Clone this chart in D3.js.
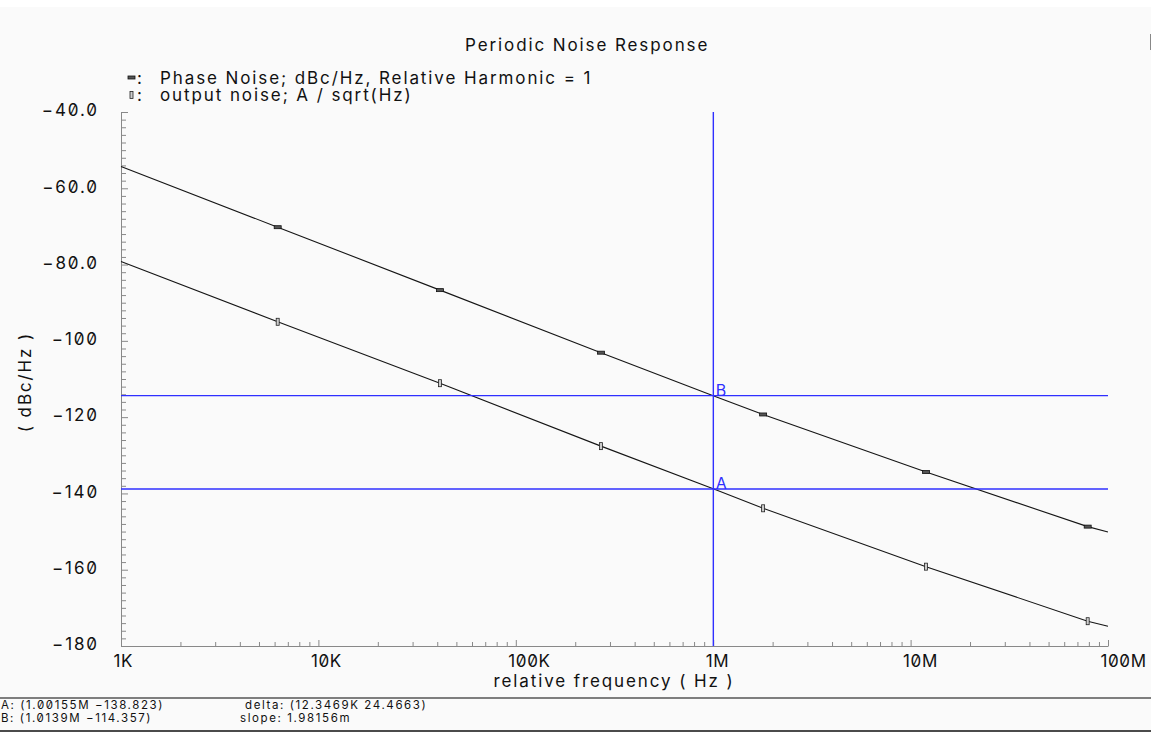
<!DOCTYPE html>
<html>
<head>
<meta charset="utf-8">
<script src="https://cdn.jsdelivr.net/npm/d3@7"></script>
<style>
  html, body { margin: 0; padding: 0; background: #fafafa; }
  svg { display: block; }
  text { font-family: Inter, "DejaVu Sans", sans-serif; font-variant-numeric: slashed-zero; font-feature-settings: "zero" 1; fill: #111; }
  .big { font-size: 17px; letter-spacing: 1.9px; }
  .tickx { font-size: 17px; letter-spacing: 0.6px; }
  .small { font-size: 11.5px; letter-spacing: 1.6px; }
  .cursor-label { font-size: 16px; fill: #2f2fff; }
</style>
</head>
<body>
<div id="chart"></div>
<script>
const width = 1151;
const height = 732;

// data
const freqs = [1e3, 6.22e3, 41.3e3, 270e3, 1e6, 1.79e6, 11.97e6, 78.9e6, 1e8];
const phaseNoise = [-54.3, -70.2, -86.7, -103.1, -114.4, -119.3, -134.4, -148.7, -150.1];
const outputNoise = [-79.2, -95.0, -111.1, -127.6, -138.8, -143.9, -159.2, -173.5, -174.8];
const markerIdx = [1, 2, 3, 5, 6, 7];

const xTicks = [1e3, 1e4, 1e5, 1e6, 1e7, 1e8];
const xTickLabels = ["1K", "10K", "100K", "1M", "10M", "100M"];
const yTicks = [-40, -60, -80, -100, -120, -140, -160, -180];
const yTickLabels = ["\u221240.0", "\u221260.0", "\u221280.0", "\u2212100", "\u2212120", "\u2212140", "\u2212160", "\u2212180"];

const cursorA = { name: "A", f: 1.00155e6, v: -138.823 };
const cursorB = { name: "B", f: 1.0139e6, v: -114.357 };
const readout = [
    ["A: (1.00155M \u2212138.823)", "delta: (12.3469K 24.4663)"],
    ["B: (1.0139M \u2212114.357)", "slope: 1.98156m"]
];

const plotLeft = 121, plotRight = 1108, plotTop = 112, plotBottom = 646;

const svg = d3.select("#chart")
    .append("svg")
    .attr("width", width)
    .attr("height", height);

svg.append("rect").attr("x", 0).attr("y", 0).attr("width", width).attr("height", 7).attr("fill", "#fff");
svg.append("rect").attr("x", 1150).attr("y", 34).attr("width", 1).attr("height", 16).attr("fill", "#888");

const x = d3.scaleLog().domain([1e3, 1e8]).range([plotLeft, plotRight]);
const y = d3.scaleLinear().domain([-180, -40]).range([plotBottom, plotTop]);

// minor ticks
const xMinor = [];
for (let d = 3; d < 8; d++) {
    for (let k = 2; k <= 9; k++) xMinor.push(k * Math.pow(10, d));
}
const yMinor = d3.range(-180, -39, 2).filter(v => v % 20 !== 0);

const gx = svg.append("g").attr("transform", `translate(0,${plotBottom})`);
gx.call(d3.axisBottom(x).tickValues(xMinor).tickSizeInner(-4).tickSizeOuter(0).tickFormat(""));
gx.call(g => g.select(".domain").remove());
const gxMajor = svg.append("g").attr("transform", `translate(0,${plotBottom})`)
    .call(d3.axisBottom(x).tickValues(xTicks).tickSizeInner(-6).tickSizeOuter(0)
        .tickFormat((d, i) => xTickLabels[i]));
gxMajor.attr("font-size", null).attr("font-family", null).attr("text-anchor", "start");
gxMajor.selectAll("text").attr("class", "tickx").attr("x", -8).attr("y", 21).attr("dy", 0);

const gy = svg.append("g").attr("transform", `translate(${plotLeft},0)`);
gy.call(d3.axisLeft(y).tickValues(yMinor).tickSizeInner(-5).tickSizeOuter(0).tickFormat(""));
gy.call(g => g.select(".domain").remove());
const gyMajor = svg.append("g").attr("transform", `translate(${plotLeft},0)`)
    .call(d3.axisLeft(y).tickValues(yTicks).tickSizeInner(-7).tickSizeOuter(0).tickPadding(22)
        .tickFormat((d, i) => yTickLabels[i]));
gyMajor.attr("font-size", null).attr("font-family", null);
gyMajor.selectAll("text").attr("class", "big").attr("dy", "0.22em");

svg.selectAll(".tick line").attr("stroke", "#888");
svg.selectAll(".domain").attr("stroke", "#888");

// curves
const line = d3.line().x(d => x(d[0])).y(d => y(d[1]));
const seriesPN = freqs.map((f, i) => [f, phaseNoise[i]]);
const seriesON = freqs.map((f, i) => [f, outputNoise[i]]);

[seriesPN, seriesON].forEach(s => {
    svg.append("path").datum(s).attr("d", line)
        .attr("fill", "none").attr("stroke", "#151515").attr("stroke-width", 1.1);
});

svg.selectAll(".mk-pn").data(markerIdx.map(i => seriesPN[i])).enter().append("rect")
    .attr("x", d => x(d[0]) - 3.5).attr("y", d => y(d[1]) - 1.5)
    .attr("width", 7).attr("height", 3)
    .attr("fill", "#555").attr("stroke", "#111").attr("stroke-width", 0.8);
svg.selectAll(".mk-on").data(markerIdx.map(i => seriesON[i])).enter().append("rect")
    .attr("x", d => x(d[0]) - 1.5).attr("y", d => y(d[1]) - 3.5)
    .attr("width", 3).attr("height", 7)
    .attr("fill", "#ccc").attr("stroke", "#222").attr("stroke-width", 0.8);

// cursors
const blue = "#2f2fff";
const gc = svg.append("g");
gc.append("line")
    .attr("x1", x(cursorA.f)).attr("x2", x(cursorA.f))
    .attr("y1", plotTop).attr("y2", plotBottom)
    .attr("stroke", blue).attr("stroke-width", 1.4);
[cursorA, cursorB].forEach(c => {
    gc.append("line")
        .attr("x1", plotLeft).attr("x2", plotRight)
        .attr("y1", y(c.v)).attr("y2", y(c.v))
        .attr("stroke", blue).attr("stroke-width", 1.4);
    gc.append("text").attr("class", "cursor-label")
        .attr("x", x(cursorA.f) + 2.5).attr("y", y(c.v))
        .text(c.name);
});

// titles and legend
svg.append("text").attr("class", "big").attr("x", 465).attr("y", 51).text("Periodic Noise Response");

svg.append("rect").attr("x", 128).attr("y", 76).attr("width", 7).attr("height", 3)
    .attr("fill", "#555").attr("stroke", "#111").attr("stroke-width", 0.8);
svg.append("text").attr("class", "big").attr("x", 137).attr("y", 83.5).text(":");
svg.append("text").attr("class", "big").attr("x", 160).attr("y", 83.5)
    .text("Phase Noise; dBc/Hz, Relative Harmonic = 1");

svg.append("rect").attr("x", 130).attr("y", 91.5).attr("width", 3).attr("height", 7)
    .attr("fill", "#ccc").attr("stroke", "#222").attr("stroke-width", 0.8);
svg.append("text").attr("class", "big").attr("x", 137).attr("y", 101).text(":");
svg.append("text").attr("class", "big").attr("x", 160).attr("y", 101)
    .text("output noise; A / sqrt(Hz)");

svg.append("text").attr("class", "big").attr("text-anchor", "middle")
    .attr("x", 614).attr("y", 687).text("relative frequency ( Hz )");

svg.append("text").attr("class", "big").attr("text-anchor", "middle")
    .attr("transform", "translate(31,382) rotate(-90)").text("( dBc/Hz )");

// readout area
svg.append("line").attr("x1", 0).attr("x2", width).attr("y1", 698).attr("y2", 698)
    .attr("stroke", "#555").attr("stroke-width", 1.5);
svg.append("line").attr("x1", 0).attr("x2", width).attr("y1", 731).attr("y2", 731)
    .attr("stroke", "#111").attr("stroke-width", 1.5);
const readX = [[1, 245], [1, 240]];
readout.forEach((row, r) => {
    row.forEach((t, c) => {
        svg.append("text").attr("class", "small")
            .attr("x", readX[r][c])
            .attr("y", 709 + r * 13)
            .text(t);
    });
});
</script>
</body>
</html>
